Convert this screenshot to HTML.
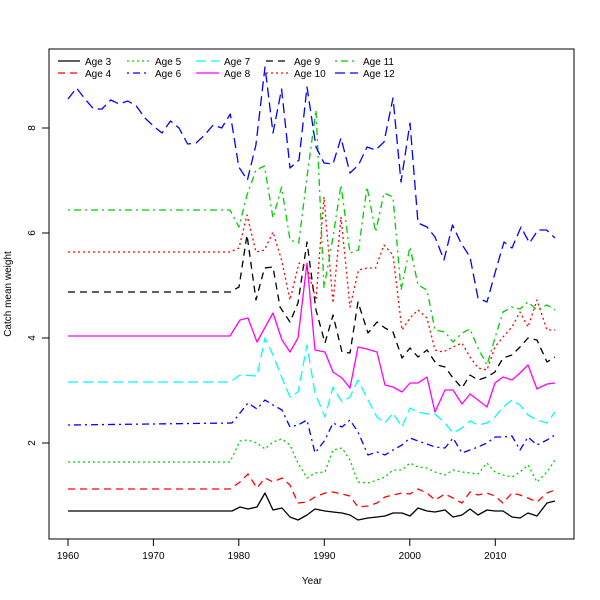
<!DOCTYPE html>
<html><head><meta charset="utf-8"><style>
body{margin:0;background:#fff;}
svg{display:block;font-family:"Liberation Sans",sans-serif;}
</style></head><body>
<svg width="600" height="600" viewBox="0 0 600 600" xmlns="http://www.w3.org/2000/svg">
<rect width="600" height="600" fill="#fff"/>
<rect x="49" y="49" width="525" height="490" fill="none" stroke="#000" stroke-width="1"/>
<g stroke="#000" stroke-width="1">
<line x1="68" y1="539" x2="495" y2="539"/>
<line x1="68" y1="539" x2="68" y2="546"/><line x1="153.4" y1="539" x2="153.4" y2="546"/><line x1="238.8" y1="539" x2="238.8" y2="546"/><line x1="324.3" y1="539" x2="324.3" y2="546"/><line x1="409.8" y1="539" x2="409.8" y2="546"/><line x1="495.3" y1="539" x2="495.3" y2="546"/>
<line x1="49" y1="443" x2="49" y2="128"/>
<line x1="42" y1="443" x2="49" y2="443"/><line x1="42" y1="338" x2="49" y2="338"/><line x1="42" y1="233" x2="49" y2="233"/><line x1="42" y1="128" x2="49" y2="128"/>
</g>
<g font-size="10" text-anchor="middle" fill="#000">
<text x="68" y="559">1960</text><text x="153.4" y="559">1970</text><text x="238.8" y="559">1980</text><text x="324.3" y="559">1990</text><text x="409.8" y="559">2000</text><text x="495.3" y="559">2010</text>
<text transform="translate(35,443) rotate(-90)">2</text><text transform="translate(35,338) rotate(-90)">4</text><text transform="translate(35,233) rotate(-90)">6</text><text transform="translate(35,128) rotate(-90)">8</text>
<text x="312" y="584">Year</text>
<text transform="translate(11,294) rotate(-90)">Catch mean weight</text>
</g>
<g fill="none" stroke-width="1.3" stroke-linejoin="round">
<polyline stroke="#000" points="68,511 232,511 240,507 248,509 257,507 265,493 273,510 282,508 290,517 298,520 307,515 315,509 325,511 333,512 342,513 350,515 358,520 368,518 377,517 385,516 393,513 402,513 410,516 418,508 427,511 435,512 445,510 453,517 462,515 470,509 478,515 487,510 495,511 503,511 512,517 520,518 528,513 537,516 547,503 555,501"/>
<polyline stroke="#ff0000" stroke-dasharray="7 5" points="68,489 230,489 240,482 248,474 257,488 265,478 273,482 282,478 290,485 298,503 307,502 315,497 325,493 333,492 342,494 350,496 358,507 368,506 377,503 385,497 393,495 402,493 410,494 418,489 427,493 435,500 445,494 453,498 462,503 470,492 478,495 487,493 495,496 503,503 512,493 520,495 528,498 537,502 547,493 555,490"/>
<polyline stroke="#00cd00" stroke-dasharray="2 3" points="68,462 230,462 240,441 248,440 257,443 265,449 273,442 282,439 290,445 298,463 307,478 315,473 325,472 333,450 342,448 350,460 358,482 368,483 377,480 385,477 393,470 402,470 410,463 418,467 427,468 435,472 445,475 453,470 462,472 470,473 478,474 487,463 495,472 503,475 512,477 520,472 528,465 537,482 547,472 555,460"/>
<polyline stroke="#0000ff" stroke-dasharray="2 4 7 4" points="68,425 232,423 240,413 248,403 257,409 265,400 273,405 282,410 290,427 298,425 307,420 315,453 325,440 333,423 342,427 350,420 358,432 368,455 377,452 385,455 393,450 402,445 410,438 418,441 427,444 435,447 445,448 453,438 462,453 470,450 478,447 487,443 495,437 503,437 512,436 520,450 528,437 537,445 547,440 555,435"/>
<polyline stroke="#00ffff" stroke-dasharray="10 5" points="68,382 230,382 240,375 257,376 265,338 273,355 282,378 290,397 298,392 307,345 315,393 325,417 333,387 342,402 350,397 358,380 368,400 377,417 385,423 393,413 402,427 410,408 418,412 427,414 435,414 445,423 453,433 462,428 470,421 478,425 487,423 495,417 503,407 512,400 520,405 528,415 537,420 547,423 555,412"/>
<polyline stroke="#ff00ff" points="68,336 230,336 240,320 248,318 257,342 273,313 282,340 290,352 298,338 307,263 315,350 325,352 333,372 342,378 350,388 358,347 367,349 377,352 385,385 393,387 402,392 410,383 418,383 427,377 435,412 445,390 453,390 462,404 470,394 478,400 487,407 495,383 503,377 512,380 520,373 528,365 537,389 547,384 555,383"/>
<polyline stroke="#000" stroke-dasharray="7 5" points="68,292 230,292 239,287 247,235 256,300 264.5,268 273,267 280,307 290,322 298,303 307,242 316,310 325,343 333,315 342,352 350,353 358,302 368,333 377,322 385,328 393,332 402,358 410,348 418,357 427,350 437,365 445,367 453,378 462,388 470,375 478,380 487,377 495,372 503,358 512,355 520,347 528,338 537,340 547,362 555,357"/>
<polyline stroke="#ff0000" stroke-dasharray="2 3" points="68,252 230,252 239,248 247,215 256,252 264.5,250 273,232 281.6,260 290,300 299,263 307,267 316,300 324,197 333,303 341,217 350,307 358.5,270 367,268 375.6,268 384,245 393,255 402,330 410,318 418,310 427,318 435,350 443,352 453,347 462,343 470,357 478,368 487,370 495,347 503,337 512,327 520,312 528,327 537,300 547,330 555,330"/>
<polyline stroke="#00cd00" stroke-dasharray="2 4 7 4" points="68,210 230,210 239,227 247,195 256,170 264.5,166 273,218 281.6,187 290,240 298.7,243 307,177 316,110 324,288 333,237 341,185 350,253 358.5,250 367,187 375.6,232 384,193 393,197 401,290 410,247 418,285 427,290 435,330 445,332 453,342 462,333 470,329 478,348 487,365 495,338 503,312 512,307 520,309 528,302 537,310 547,305 555,310"/>
<polyline stroke="#0000ff" stroke-dasharray="10 5" points="68,99 76.5,88 85,99 93.6,109 102,109 110.7,100 119.2,104 127.8,101 136.3,106 144.9,118 153.4,126 162,133 170.5,121 179,128 187.6,144 196.1,143 204.6,135 213.2,125 221.7,128 230.3,114 238.8,167 247.4,180 255.9,145 265,67 273,133 281.6,89 290,168 299,160 307,87 316,147 324,163 333,164 341,138 350,173 358.5,165 367,147 375.6,150 384,142 393,98 401,182 410,123 418,223 427,227 435,237 444,260 452.5,225 461,243 470,257 478,298 487,302 495,273 504,242 512,248 521,227 529.5,243 538,230 546.6,230 555,238"/>
</g>
<g stroke-width="1.3" fill="none">
<line x1="58" y1="61" x2="80" y2="61" stroke="#000"/>
<line x1="58" y1="73" x2="80" y2="73" stroke="#ff0000" stroke-dasharray="7 5"/>
<line x1="127" y1="61" x2="150" y2="61" stroke="#00cd00" stroke-dasharray="2 3"/>
<line x1="127" y1="73" x2="150" y2="73" stroke="#0000ff" stroke-dasharray="2 4 7 4"/>
<line x1="196" y1="61" x2="219" y2="61" stroke="#00ffff" stroke-dasharray="10 5"/>
<line x1="196" y1="73" x2="219" y2="73" stroke="#ff00ff"/>
<line x1="266" y1="61" x2="289" y2="61" stroke="#000" stroke-dasharray="7 5"/>
<line x1="266" y1="73" x2="289" y2="73" stroke="#ff0000" stroke-dasharray="2 3"/>
<line x1="335" y1="61" x2="358" y2="61" stroke="#00cd00" stroke-dasharray="2 4 7 4"/>
<line x1="335" y1="73" x2="358" y2="73" stroke="#0000ff" stroke-dasharray="10 5"/>
</g>
<g font-size="10" fill="#000">
<text x="85" y="65">Age 3</text><text x="85" y="77">Age 4</text>
<text x="155" y="65">Age 5</text><text x="155" y="77">Age 6</text>
<text x="224" y="65">Age 7</text><text x="224" y="77">Age 8</text>
<text x="294" y="65">Age 9</text><text x="294" y="77">Age 10</text>
<text x="363" y="65">Age 11</text><text x="363" y="77">Age 12</text>
</g>
</svg>
</body></html>
